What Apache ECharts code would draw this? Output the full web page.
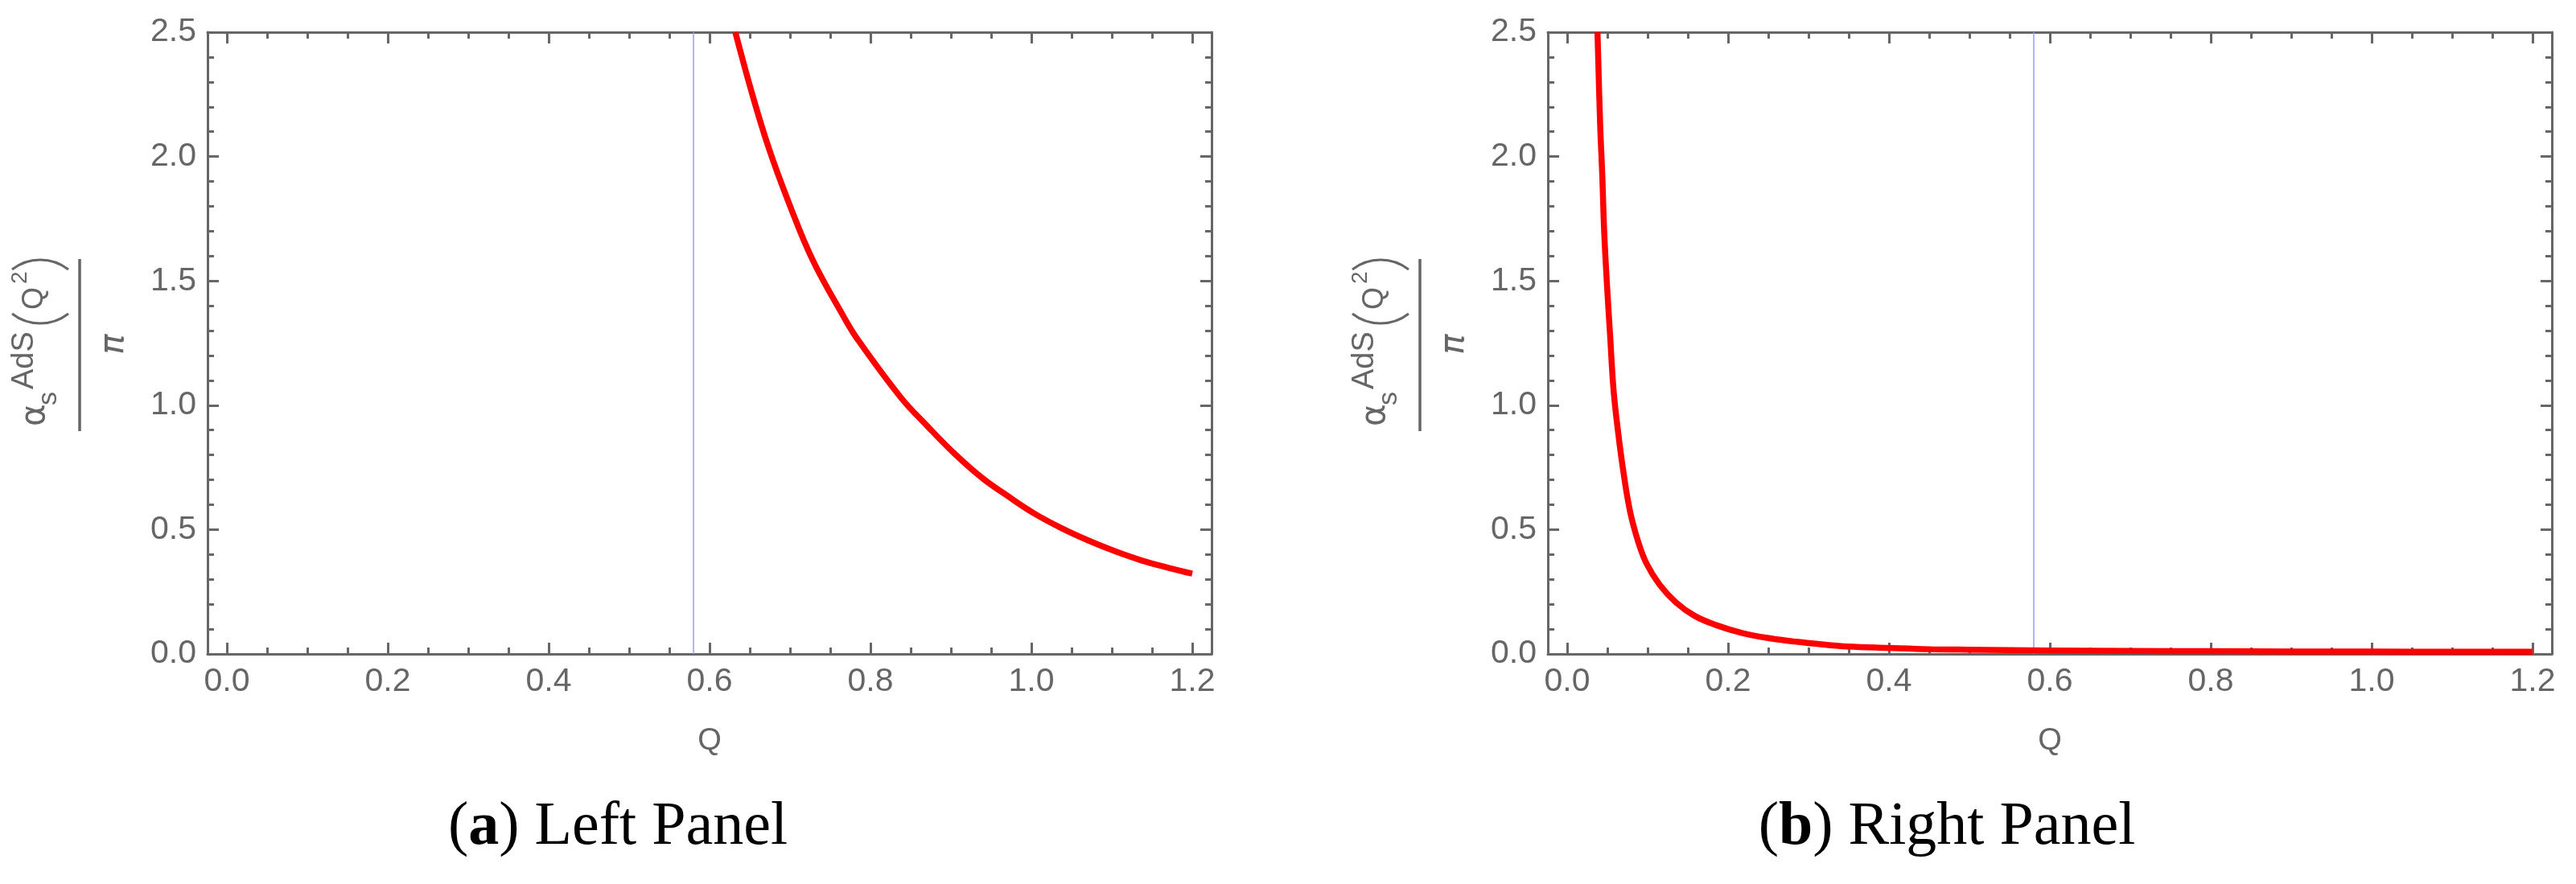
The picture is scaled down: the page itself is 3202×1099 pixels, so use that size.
<!DOCTYPE html>
<html>
<head>
<meta charset="utf-8">
<script src="https://cdn.jsdelivr.net/npm/echarts@6/dist/echarts.min.js"></script>
<style>html,body{margin:0;padding:0;background:#fff}#c{width:3202px;height:1099px}</style>
</head>
<body>
<div id="c"></div>
<script>
// ---- data ----
const leftQ     = [0.632, 0.654, 0.674, 0.699, 0.728, 0.766, 0.784, 0.838, 0.871, 0.904, 0.938, 0.971, 1.004, 1.038, 1.071, 1.104, 1.138, 1.171, 1.200];
const leftAlpha = [2.500, 2.240, 2.030, 1.810, 1.585, 1.360, 1.265, 1.030, 0.915, 0.807, 0.710, 0.634, 0.564, 0.505, 0.456, 0.413, 0.375, 0.346, 0.323];
const rightQ     = [0.0377, 0.041, 0.0437, 0.046, 0.0494, 0.0534, 0.0577, 0.0634, 0.070, 0.0784, 0.0884, 0.0984, 0.115, 0.135, 0.158, 0.185, 0.218, 0.252, 0.285, 0.318, 0.348, 0.40, 0.45, 0.50, 0.60, 0.70, 0.80, 0.90, 1.00, 1.10, 1.20];
const rightAlpha = [2.500, 2.130, 1.920, 1.700, 1.490, 1.280, 1.060, 0.890, 0.730, 0.570, 0.450, 0.365, 0.278, 0.208, 0.154, 0.116, 0.084, 0.063, 0.049, 0.038, 0.030, 0.024, 0.019, 0.017, 0.014, 0.012, 0.011, 0.010, 0.0095, 0.009, 0.0085];
const vlineQ = [0.58];
const xMajorTicks = [0, 0.2, 0.4, 0.6, 0.8, 1.0, 1.2];
const xMinorTicks = [0.05, 0.1, 0.15, 0.25, 0.3, 0.35, 0.45, 0.5, 0.55, 0.65, 0.7, 0.75, 0.85, 0.9, 0.95, 1.05, 1.1, 1.15];
const yMajorTicks = [0, 0.5, 1.0, 1.5, 2.0, 2.5];
const yMinorTicks = [0.1, 0.2, 0.3, 0.4, 0.6, 0.7, 0.8, 0.9, 1.1, 1.2, 1.3, 1.4, 1.6, 1.7, 1.8, 1.9, 2.1, 2.2, 2.3, 2.4];
const xRange = [-0.024, 1.224];
const yRange = [0, 2.5];
const xName = 'Q';
const captions = [['a', ' Left Panel'], ['b', ' Right Panel']];

// ---- styling ----
const AX = '#666666';
const SANS = '"Liberation Sans", Arial, sans-serif';
const SERIF = '"Liberation Serif", "Times New Roman", serif';

function xAxes(g) {
  const base = { type: 'value', gridIndex: g, min: xRange[0], max: xRange[1], splitLine: { show: false } };
  const tick = (vals, len) => ({ show: true, inside: true, length: len, customValues: vals, lineStyle: { color: AX, width: 3 } });
  return [
    Object.assign({}, base, {
      position: 'bottom',
      axisLine: { show: true, onZero: false, lineStyle: { color: AX, width: 3 } },
      axisTick: tick(xMajorTicks, 14),
      axisLabel: { show: true, customValues: xMajorTicks, formatter: v => v.toFixed(1), color: AX, fontSize: 41, fontFamily: SANS, margin: 14 },
      name: xName, nameLocation: 'middle', nameGap: 90,
      nameTextStyle: { color: AX, fontSize: 38, fontFamily: SANS }
    }),
    Object.assign({}, base, { position: 'bottom', axisLine: { show: false, onZero: false }, axisTick: tick(xMinorTicks, 8), axisLabel: { show: false } }),
    Object.assign({}, base, { position: 'top', axisLine: { show: true, onZero: false, lineStyle: { color: AX, width: 3 } }, axisTick: tick(xMajorTicks, 14), axisLabel: { show: false } }),
    Object.assign({}, base, { position: 'top', axisLine: { show: false, onZero: false }, axisTick: tick(xMinorTicks, 8), axisLabel: { show: false } })
  ];
}
function yAxes(g) {
  const base = { type: 'value', gridIndex: g, min: yRange[0], max: yRange[1], splitLine: { show: false } };
  const tick = (vals, len) => ({ show: true, inside: true, length: len, customValues: vals, lineStyle: { color: AX, width: 3 } });
  return [
    Object.assign({}, base, {
      position: 'left',
      axisLine: { show: true, onZero: false, lineStyle: { color: AX, width: 3 } },
      axisTick: tick(yMajorTicks, 14),
      axisLabel: { show: true, customValues: yMajorTicks, formatter: v => v.toFixed(1), color: AX, fontSize: 41, fontFamily: SANS, margin: 14 }
    }),
    Object.assign({}, base, { position: 'left', axisLine: { show: false, onZero: false }, axisTick: tick(yMinorTicks, 8), axisLabel: { show: false } }),
    Object.assign({}, base, { position: 'right', axisLine: { show: true, onZero: false, lineStyle: { color: AX, width: 3 } }, axisTick: tick(yMajorTicks, 14), axisLabel: { show: false } }),
    Object.assign({}, base, { position: 'right', axisLine: { show: false, onZero: false }, axisTick: tick(yMinorTicks, 8), axisLabel: { show: false } })
  ];
}

function txt(str, u, baseV, size, family, extra) {
  return { type: 'text', x: u, y: baseV - 0.347 * size,
    style: Object.assign({ text: str, fontSize: size, fontFamily: family || SANS, fill: AX, align: 'left', verticalAlign: 'middle' }, extra || {}) };
}
function yLabel(barX) {
  const a = 0.661;
  return {
    type: 'group', x: barX, y: 429, rotation: Math.PI / 2, silent: true,
    children: [
      { type: 'line', shape: { x1: -107, y1: 0, x2: 107, y2: 0 }, style: { stroke: AX, lineWidth: 3.5 } },
      txt('α', -101, -40, 42, '"DejaVu Sans", sans-serif'),
      txt('s', -75, -27, 34),
      txt('AdS', -55, -55, 38),
      { type: 'arc', shape: { cx: 84, cy: -49, r: 57, startAngle: Math.PI - a, endAngle: Math.PI + a, clockwise: true }, style: { stroke: AX, fill: 'none', lineWidth: 3 } },
      txt('Q', 44, -43, 36),
      txt('2', 76, -64, 28),
      { type: 'arc', shape: { cx: 49, cy: -49, r: 57, startAngle: -a, endAngle: a, clockwise: true }, style: { stroke: AX, fill: 'none', lineWidth: 3 } },
      { type: 'text', x: 1, y: 43.5, style: { text: 'π', fontSize: 42, fontStyle: 'italic', fontFamily: '"DejaVu Sans", sans-serif', fill: AX, align: 'center', verticalAlign: 'middle' } }
    ]
  };
}
function caption(cx, c) {
  return { type: 'text', x: cx, y: 1029, silent: true,
    style: { text: '{n|(}{b|' + c[0] + '}{n|)' + c[1] + '}', align: 'center', verticalAlign: 'middle', fill: '#000',
      rich: { n: { fontSize: 76, fontFamily: SERIF, fill: '#000' }, b: { fontSize: 76, fontFamily: SERIF, fontWeight: 'bold', fill: '#000' } } } };
}

const pairs = (xs, ys) => xs.map((x, i) => [x, ys[i]]);
function series(g, xs, ys) {
  return [
    { type: 'line', xAxisIndex: g * 4, yAxisIndex: g * 4, data: [[vlineQ[0], yRange[0]], [vlineQ[0], yRange[1]]],
      showSymbol: false, symbol: 'none', lineStyle: { color: '#9a9aff', width: 1.5 }, z: 1, silent: true },
    { type: 'line', xAxisIndex: g * 4, yAxisIndex: g * 4, data: pairs(xs, ys), smooth: 0.4,
      showSymbol: false, symbol: 'none', lineStyle: { color: '#ff0000', width: 7.5, cap: 'butt', join: 'round' }, z: 3, clip: true, silent: true }
  ];
}

const chart = echarts.init(document.getElementById('c'), null, { renderer: 'canvas' });
chart.setOption({
  animation: false,
  backgroundColor: '#ffffff',
  grid: [
    { left: 258, top: 40, width: 1248, height: 773, containLabel: false, outerBoundsMode: 'none' },
    { left: 1924, top: 40, width: 1248, height: 773, containLabel: false, outerBoundsMode: 'none' }
  ],
  xAxis: xAxes(0).concat(xAxes(1)),
  yAxis: yAxes(0).concat(yAxes(1)),
  series: series(0, leftQ, leftAlpha).concat(series(1, rightQ, rightAlpha)),
  graphic: [yLabel(99), yLabel(1765), caption(768, captions[0]), caption(2420, captions[1])]
});
</script>
</body>
</html>
